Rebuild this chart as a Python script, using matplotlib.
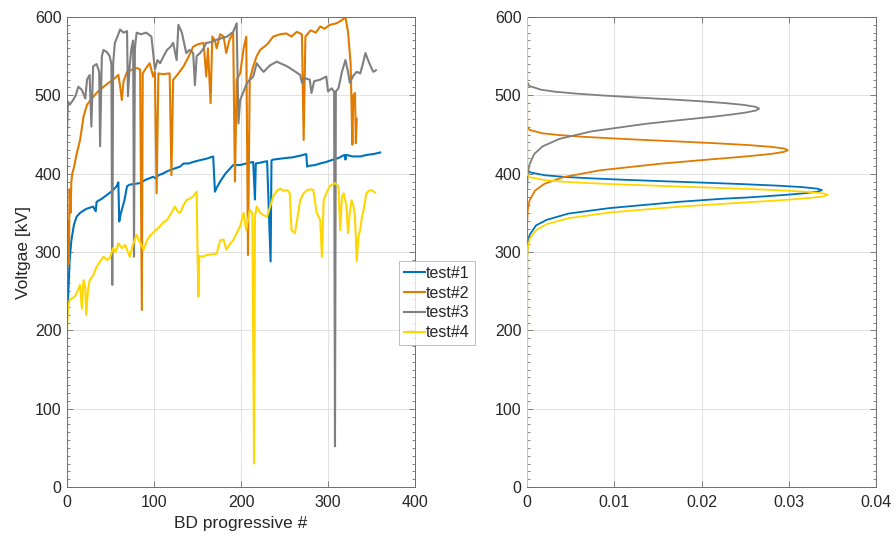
import numpy as np
import matplotlib
matplotlib.use("Agg")
import matplotlib.pyplot as plt
from matplotlib.ticker import MultipleLocator

plt.rcParams['font.family'] = ['Liberation Sans', 'DejaVu Sans']

# colours (MATLAB-like)
c1 = '#0072BD'
c2 = '#E07B00'
c3 = '#7F7F7F'
c4 = '#FFD600'
labels = ['test#1', 'test#2', 'test#3', 'test#4']

# --- left panel: breakdown voltage vs progressive number
x1 = [0, 1, 2, 3, 5, 8, 11, 15, 22, 30, 33, 34, 40, 46, 52, 57, 59, 60, 62, 66, 69, 72, 78, 84, 90,
      99, 102, 105, 110, 115, 122, 130, 134, 140, 145, 152, 160, 168, 170, 172, 176, 182, 191, 199,
      206, 214, 216, 217, 222, 230, 234, 235, 237, 244, 252, 260, 268, 275, 276, 278, 285, 291, 298,
      306, 312, 319, 320, 321, 328, 337, 345, 352, 360]
v1 = [215, 235, 262, 290, 315, 335, 345, 350, 355, 358, 352, 364, 368, 373, 378, 384, 389, 339, 350,
      366, 384, 386, 387, 388, 392, 396, 394, 398, 400, 403, 406, 409, 413, 413, 415, 417, 419, 422,
      377, 382, 390, 400, 411, 411, 413, 415, 367, 413, 414, 416, 288, 417, 418, 419, 420, 421, 423,
      425, 409, 410, 411, 413, 415, 418, 420, 424, 418, 424, 422, 422, 424, 425, 427]

x2 = [0, 1, 2, 3, 4, 5, 6, 8, 11, 15, 19, 23, 27, 34, 42, 48, 53, 59, 61, 63, 65, 69, 75, 80, 84,
      86, 87, 91, 95, 99, 101, 103, 105, 110, 118, 120, 122, 126, 134, 140, 145, 150, 157, 160, 162,
      165, 167, 170, 172, 176, 180, 183, 187, 191, 193, 195, 199, 203, 206, 208, 210, 214, 218, 222,
      230, 237, 245, 252, 258, 264, 270, 272, 274, 280, 286, 291, 296, 302, 310, 316, 320, 323, 326,
      328, 329, 331, 332, 333]
v2 = [275, 340, 285, 380, 350, 390, 400, 408, 425, 443, 473, 488, 494, 503, 511, 516, 520, 526, 512,
      494, 518, 530, 533, 535, 533, 226, 528, 535, 541, 524, 530, 375, 528, 527, 528, 398, 520, 525,
      537, 550, 562, 565, 567, 524, 560, 490, 575, 570, 560, 578, 575, 554, 572, 579, 390, 520, 528,
      560, 575, 296, 520, 537, 550, 558, 565, 575, 578, 579, 575, 581, 578, 443, 575, 583, 580, 588,
      585, 590, 592, 596, 600, 581, 540, 437, 500, 503, 439, 470]

x3 = [0, 1, 3, 7, 10, 13, 17, 21, 23, 26, 28, 30, 34, 37, 38, 40, 42, 46, 49, 51, 52, 53, 55, 58,
      61, 65, 69, 70, 72, 74, 76, 77, 78, 80, 85, 91, 97, 101, 104, 107, 111, 115, 119, 122, 126,
      128, 132, 137, 141, 145, 147, 149, 153, 157, 160, 166, 172, 178, 184, 191, 195, 197, 199, 203,
      207, 214, 218, 222, 226, 233, 241, 247, 253, 260, 268, 270, 273, 279, 281, 284, 291, 298, 300,
      304, 307, 308, 309, 312, 316, 320, 323, 325, 329, 333, 337, 340, 343, 346, 349, 352, 355]
v3 = [450, 492, 488, 494, 500, 511, 507, 496, 520, 526, 460, 537, 540, 530, 435, 550, 558, 555, 550,
      540, 258, 540, 567, 575, 584, 580, 582, 499, 537, 560, 570, 294, 560, 580, 578, 580, 575, 533,
      545, 541, 550, 558, 562, 567, 545, 590, 580, 554, 558, 554, 513, 550, 554, 560, 567, 568, 571,
      573, 575, 581, 592, 464, 494, 505, 516, 524, 541, 535, 530, 538, 543, 540, 537, 532, 526, 516,
      522, 520, 503, 518, 520, 524, 505, 509, 505, 52, 505, 509, 530, 545, 530, 516, 525, 530, 528,
      540, 554, 545, 537, 530, 532]

x4 = [0, 1, 3, 6, 9, 12, 15, 17, 19, 21, 22, 24, 26, 30, 34, 38, 42, 46, 49, 53, 56, 59, 63, 67,
      70, 72, 76, 80, 84, 88, 92, 95, 100, 104, 107, 111, 115, 120, 124, 127, 130, 134, 137, 141,
      145, 149, 150, 151, 152, 156, 160, 166, 172, 176, 180, 183, 187, 191, 195, 199, 203, 206, 210,
      213, 215, 216, 218, 222, 226, 230, 234, 237, 241, 245, 249, 253, 256, 258, 262, 265, 268, 272,
      276, 280, 283, 287, 291, 293, 295, 298, 302, 305, 308, 312, 314, 316, 318, 321, 323, 325, 327,
      329, 331, 333, 335, 337, 339, 341, 344, 347, 350, 354]
v4 = [200, 226, 239, 241, 243, 250, 258, 228, 264, 255, 220, 250, 264, 270, 281, 288, 294, 290, 292,
      305, 300, 311, 305, 309, 300, 294, 310, 322, 312, 303, 315, 320, 326, 330, 333, 338, 341, 350,
      358, 352, 350, 360, 366, 368, 371, 377, 300, 243, 295, 294, 296, 297, 298, 315, 316, 303, 310,
      315, 324, 333, 350, 328, 354, 350, 30, 345, 358, 350, 347, 345, 360, 371, 378, 381, 378, 379,
      375, 328, 324, 345, 366, 375, 379, 380, 379, 350, 341, 294, 366, 375, 384, 386, 388, 384, 328,
      370, 375, 360, 324, 350, 366, 360, 345, 288, 320, 328, 345, 354, 375, 378, 379, 376]

# --- right panel: fitted distributions (voltage [kV], density)
vd1 = [0, 296, 311, 322, 334, 341, 349, 356, 364, 368, 369.5, 371.4, 373.3, 375.2, 377.1, 379, 380.9,
       382.8, 384.7, 386.6, 388.5, 390.4, 392.3, 394.2, 396.1, 398.0, 401.7, 405.5, 600]
pd1 = [0, 0.00002, 0.000088, 0.00031, 0.00103, 0.00224, 0.00472, 0.0094, 0.01734, 0.02241, 0.02508,
       0.02768, 0.03005, 0.03197, 0.03333, 0.0338, 0.03326, 0.03157, 0.02873, 0.02488, 0.02031,
       0.01551, 0.01092, 0.00703, 0.00402, 0.00203, 0.00032, 0.00002, 0]

vd2 = [0, 335.4, 352.6, 365.5, 378.4, 387, 395.6, 404.2, 412.8, 417.1, 419.3, 421.4, 423.6, 425.7,
       427.9, 430, 432.2, 434.3, 436.5, 438.6, 440.8, 442.9, 445.1, 447.2, 449.4, 451.5, 455.8, 460.1, 600]
pd2 = [0, 0.000015, 0.000078, 0.000275, 0.000915, 0.00198, 0.00417, 0.00831, 0.01534, 0.01982,
       0.02219, 0.02449, 0.02658, 0.02829, 0.02948, 0.0299, 0.02942, 0.02793, 0.02542, 0.02201,
       0.01797, 0.01372, 0.00966, 0.00622, 0.00356, 0.00179, 0.00029, 0.00002, 0]

vd3 = [0, 376.7, 396.1, 410.6, 425.0, 434.7, 444.4, 454.0, 463.7, 468.5, 470.9, 473.3, 475.8, 478.2,
       480.6, 483, 485.4, 487.8, 490.2, 492.7, 495.1, 497.5, 499.9, 502.3, 504.7, 507.2, 512.0, 516.8, 600]
pd3 = [0, 0.000013, 0.000069, 0.000245, 0.000814, 0.00176, 0.00371, 0.00739, 0.01365, 0.01764,
       0.01974, 0.02179, 0.02365, 0.02516, 0.02623, 0.0266, 0.02617, 0.02484, 0.02261, 0.01958,
       0.01599, 0.01221, 0.00859, 0.00553, 0.00317, 0.0016, 0.00026, 0.00002, 0]

vd4 = [0, 290.9, 305.9, 317.1, 328.2, 335.7, 343.2, 350.6, 358.1, 361.8, 363.7, 365.5, 367.4, 369.3,
       371.1, 373, 374.9, 376.7, 378.6, 380.5, 382.3, 384.2, 386.1, 387.9, 389.8, 391.7, 395.4, 399.1, 600]
pd4 = [0, 0.00002, 0.00009, 0.00032, 0.00106, 0.00229, 0.00481, 0.00959, 0.0177, 0.02287, 0.0256,
       0.02826, 0.03067, 0.03264, 0.03402, 0.0345, 0.03395, 0.03222, 0.02933, 0.02539, 0.02073,
       0.01584, 0.01114, 0.00718, 0.00411, 0.00207, 0.00033, 0.00002, 0]

txt = '#262626'
spine = '#6e6e6e'

fig = plt.figure(figsize=(8.96, 5.43), dpi=100)
ax1 = fig.add_axes([0.0748, 0.1031, 0.3884, 0.8656])
ax2 = fig.add_axes([0.5882, 0.1031, 0.3895, 0.8656])

series = [(x1, v1, c1), (x2, v2, c2), (x3, v3, c3), (x4, v4, c4)]
lines = []
for (xx, vv, cc), lab in zip(series, labels):
    ln, = ax1.plot(xx, vv, color=cc, lw=1.5, label=lab)
    lines.append(ln)

for vd, pd, cc in [(vd1, pd1, c1), (vd2, pd2, c2), (vd3, pd3, c3), (vd4, pd4, c4)]:
    ax2.plot(pd, vd, color=cc, lw=1.3, zorder=3)

ax1.set_xlim(0, 400)
ax1.set_ylim(0, 600)
ax1.set_xticks([0, 100, 200, 300, 400])
ax1.set_xlabel('BD progressive #', fontsize=12.5, color=txt, labelpad=4)
ax1.set_ylabel('Voltgae [kV]', fontsize=12.5, color=txt, labelpad=3)

ax2.set_xlim(0, 0.04)
ax2.set_ylim(0, 600)
ax2.set_xticks([0, 0.01, 0.02, 0.03, 0.04])
ax2.set_xticklabels(['0', '0.01', '0.02', '0.03', '0.04'])

for ax in (ax1, ax2):
    ax.set_yticks(range(0, 601, 100))
    ax.yaxis.set_minor_locator(MultipleLocator(10))
    ax.grid(True, color='#dcdcdc', lw=0.6)
    ax.set_axisbelow(True)
    ax.tick_params(which='both', direction='in', top=True, right=True,
                   colors=spine, labelcolor=txt, labelsize=11.5, width=0.6)
    ax.tick_params(which='major', length=4, pad=4)
    ax.tick_params(axis='x', which='major', pad=6)
    ax.tick_params(which='minor', length=2)
    for s in ax.spines.values():
        s.set_color(spine)
        s.set_linewidth(0.7)

leg = fig.legend(handles=lines, loc='upper left', bbox_to_anchor=(0.4453, 0.5193),
                 borderaxespad=0, fontsize=11.5, frameon=True, fancybox=False,
                 handlelength=1.3, handletextpad=0.1, labelspacing=0.3,
                 borderpad=0.3)
leg.get_frame().set_edgecolor('#a0a0a0')
leg.get_frame().set_linewidth(0.6)
for t in leg.get_texts():
    t.set_color(txt)

fig.savefig('out.png', dpi=100)
